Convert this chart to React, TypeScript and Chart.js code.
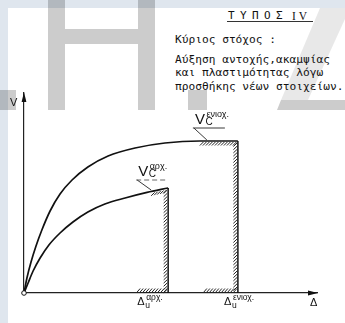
import React, { useEffect, useRef } from 'react';
import { Chart, registerables } from 'chart.js';
Chart.register(...registerables);

// Envelope after strengthening (ενισχυμένο): displacement Δ, load V
const strengthenedDisp = [0, 0.10, 0.24, 0.41, 0.61, 0.89, 1.23, 1.64, 2.18, 2.87, 3.79, 4.81, 6.0, 7.3];
const strengthenedLoad = [0, 0.75, 1.55, 2.35, 3.15, 4.1, 4.95, 5.65, 6.3, 6.85, 7.25, 7.5, 7.6, 7.6];
// Initial (αρχικό) envelope
const initialDisp = [0, 0.14, 0.31, 0.55, 0.85, 1.23, 1.67, 2.18, 2.76, 3.45, 4.2, 4.92];
const initialLoad = [0, 0.5, 1.1, 1.75, 2.4, 3.0, 3.55, 4.05, 4.45, 4.75, 5.03, 5.25];
const deltaUInitial = 4.92;
const deltaUStrengthened = 7.3;
const axisMax = 10;

const titleText = 'ΤΥΠΟΣ';
const titleRoman = 'IV';
const textLines = [
  'Κύριος στόχος :',
  'Αύξηση αντοχής,ακαμψίας',
  'και πλαστιμότητας λόγω',
  'προσθήκης νέων στοιχείων.',
];

function loadAt(disp: number[], load: number[], v: number) {
  for (let i = 1; i < disp.length; i++) {
    if (v <= disp[i]) {
      const t = (v - disp[i - 1]) / (disp[i] - disp[i - 1] || 1);
      return load[i - 1] + t * (load[i] - load[i - 1]);
    }
  }
  return load[load.length - 1];
}

const annot = {
  id: 'annot',
  afterDatasetsDraw(chart: any) {
    const { ctx } = chart;
    const xs = chart.scales.x, ys = chart.scales.y;
    const X = (v: number) => xs.getPixelForValue(v);
    const Y = (v: number) => ys.getPixelForValue(v);
    const ox = X(0), oy = Y(0);
    ctx.save();
    ctx.fillStyle = '#111';
    // arrows
    const xe = X(axisMax), yt = Y(axisMax);
    ctx.beginPath();
    ctx.moveTo(xe + 1, oy); ctx.lineTo(xe - 9, oy - 2.6); ctx.lineTo(xe - 9, oy + 2.6); ctx.closePath(); ctx.fill();
    ctx.beginPath();
    ctx.moveTo(ox, yt - 1); ctx.lineTo(ox - 2.4, yt + 9); ctx.lineTo(ox + 2.4, yt + 9); ctx.closePath(); ctx.fill();

    // hatching
    ctx.strokeStyle = '#222';
    ctx.lineWidth = 1;
    const hatch = (disp: number[], load: number[], du: number, topStartPx: number, botStartPx: number) => {
      const xv = X(du);
      const top = Y(load[load.length - 1]);
      ctx.beginPath();
      for (let px = topStartPx; px <= xv - 2; px += 3) {
        const yy = Y(loadAt(disp, load, xs.getValueForPixel(px)));
        ctx.moveTo(px - 1, yy + 4.5); ctx.lineTo(px + 2.5, yy + 1);
      }
      for (let py = top + 3; py <= oy - 2; py += 3.2) {
        ctx.moveTo(xv - 4.5, py + 2.5); ctx.lineTo(xv - 0.8, py - 1);
      }
      for (let px = botStartPx; px <= xv - 3; px += 3) {
        ctx.moveTo(px, oy - 1); ctx.lineTo(px + 3, oy - 4.5);
      }
      ctx.stroke();
    };
    hatch(strengthenedDisp, strengthenedLoad, deltaUStrengthened, X(deltaUStrengthened) - 37, X(deltaUStrengthened) - 34);
    hatch(initialDisp, initialLoad, deltaUInitial, X(deltaUInitial) - 16, X(deltaUInitial) - 31);

    // origin circle
    ctx.beginPath();
    ctx.arc(ox, oy, 2.3, 0, Math.PI * 2);
    ctx.fillStyle = '#fff'; ctx.fill();
    ctx.strokeStyle = '#111'; ctx.lineWidth = 1; ctx.stroke();

    // labels
    ctx.fillStyle = '#111';
    ctx.textBaseline = 'alphabetic';
    const sans = '"Liberation Sans", Arial, sans-serif';
    ctx.font = '11px ' + sans;
    ctx.fillText('V', ox - 14, yt + 13);
    ctx.fillText('Δ', xe - 7, oy + 13);

    const vcLabel = (lx: number, ly: number, sup: string, ulW: number, ax: number, ay: number, dashed: boolean) => {
      ctx.font = '15px ' + sans;
      ctx.fillText('V', lx, ly);
      ctx.font = '9px ' + sans;
      ctx.fillText(sup, lx + 11.5, ly - 7.5);
      ctx.font = '10px ' + sans;
      ctx.fillText('C', lx + 10.5, ly + 0.5);
      ctx.beginPath();
      ctx.lineWidth = 0.9;
      ctx.strokeStyle = dashed ? '#555' : '#222';
      ctx.setLineDash(dashed ? [5, 3] : []);
      ctx.moveTo(lx - 2, ly + 4); ctx.lineTo(lx - 2 + ulW, ly + 4);
      ctx.stroke();
      ctx.setLineDash([]);
      ctx.beginPath();
      ctx.strokeStyle = '#222';
      ctx.moveTo(lx - 1, ly + 4); ctx.lineTo(ax, ay);
      ctx.stroke();
    };
    const sTop = Y(strengthenedLoad[strengthenedLoad.length - 1]);
    vcLabel(X(deltaUStrengthened) - 43, sTop - 17, 'ενιοχ.', 32, X(deltaUStrengthened) - 31, sTop - 1, false);
    const iTop = Y(initialLoad[initialLoad.length - 1]);
    vcLabel(X(deltaUInitial) - 30, iTop - 12, 'αρχ.', 31, X(deltaUInitial) - 17, iTop + 2, true);

    const duLabel = (du: number, sup: string, dx: number) => {
      const px = X(du);
      ctx.font = '11px ' + sans;
      ctx.fillText('Δ', px + dx, oy + 12);
      ctx.font = '8.5px ' + sans;
      ctx.fillText(sup, px + dx + 9, oy + 6.5);
      ctx.fillText('u', px + dx + 8, oy + 14.5);
    };
    duLabel(deltaUInitial, 'αρχ.', -31);
    duLabel(deltaUStrengthened, 'ενιοχ.', -14);
    ctx.restore();
  },
};

function Watermark() {
  const g = 'rgba(0,0,0,0.2)';
  return (
    <svg width={345} height={323} style={{ position: 'absolute', left: 0, top: 0 }}>
      <rect x={0} y={0} width={345} height={8} fill="#dfe6ee" />
      <rect x={0} y={8} width={8} height={315} fill="#dfe6ee" />
      <rect x={48} y={0} width={17} height={110} fill={g} />
      <rect x={138} y={0} width={17} height={110} fill={g} />
      <rect x={65} y={29} width={73} height={15} fill={g} />
      <rect x={0} y={90} width={16} height={20} fill={g} />
      <rect x={188} y={90} width={19} height={20} fill={g} />
      <polygon points="320,8 350,8 308,100 281,100" fill="rgba(0,0,0,0.09)" />
      <polygon points="281,100 345,100 345,110 277,110" fill={g} />
    </svg>
  );
}

export default function App() {
  const ref = useRef<HTMLCanvasElement | null>(null);
  useEffect(() => {
    if (!ref.current) return;
    const line = (disp: number[], load: number[]) => disp.map((d, i) => ({ x: d, y: load[i] }));
    const common = { borderColor: '#111', pointRadius: 0, fill: false };
    const chart = new Chart(ref.current, {
      type: 'line',
      data: {
        datasets: [
          { ...common, data: line(strengthenedDisp, strengthenedLoad), borderWidth: 1.7, cubicInterpolationMode: 'monotone' },
          { ...common, data: line(initialDisp, initialLoad), borderWidth: 1.7, cubicInterpolationMode: 'monotone' },
          { ...common, data: [{ x: deltaUInitial, y: 0 }, { x: deltaUInitial, y: initialLoad[initialLoad.length - 1] }], borderWidth: 1.5, tension: 0 },
          { ...common, data: [{ x: deltaUStrengthened, y: 0 }, { x: deltaUStrengthened, y: strengthenedLoad[strengthenedLoad.length - 1] }], borderWidth: 1.5, tension: 0 },
        ] as any,
      },
      options: {
        responsive: false,
        animation: false,
        devicePixelRatio: 1,
        events: [],
        layout: { padding: { left: 24, top: 93, right: 28, bottom: 30 } },
        plugins: { legend: { display: false }, tooltip: { enabled: false } },
        scales: {
          x: {
            type: 'linear', min: 0, max: axisMax,
            ticks: { display: false },
            grid: { display: true, drawOnChartArea: false, drawTicks: false },
            border: { display: true, color: '#222', width: 1.2 },
          },
          y: {
            type: 'linear', min: 0, max: axisMax,
            ticks: { display: false },
            grid: { display: true, drawOnChartArea: false, drawTicks: false },
            border: { display: true, color: '#222', width: 1.2 },
          },
        },
      } as any,
      plugins: [annot],
    });
    return () => chart.destroy();
  }, []);

  const mono = '"DejaVu Sans Mono", monospace';
  const baselines = [44, 64, 77, 91];
  return (
    <div style={{ position: 'fixed', left: 0, top: 0, width: 345, height: 323, background: '#fff', overflow: 'hidden' }}>
      <Watermark />
      <div style={{ position: 'absolute', left: 228, top: 10, font: '11px ' + mono, letterSpacing: '5.4px', color: '#111', lineHeight: '12px', whiteSpace: 'pre' }}>{titleText}</div>
      <div style={{ position: 'absolute', left: 292, top: 10, font: '11.5px "Liberation Serif", serif', letterSpacing: '3px', color: '#111', lineHeight: '12px' }}>{titleRoman}</div>
      <div style={{ position: 'absolute', left: 227, top: 21, width: 86, height: 1, background: '#333' }} />
      {textLines.map((t, i) => (
        <div key={i} style={{ position: 'absolute', left: 175, top: baselines[i] - 10, font: '11.2px ' + mono, color: '#111', lineHeight: '12px', whiteSpace: 'pre' }}>{t}</div>
      ))}
      <canvas ref={ref} width={345} height={323} style={{ position: 'absolute', left: 0, top: 0, display: 'block' }} />
    </div>
  );
}
